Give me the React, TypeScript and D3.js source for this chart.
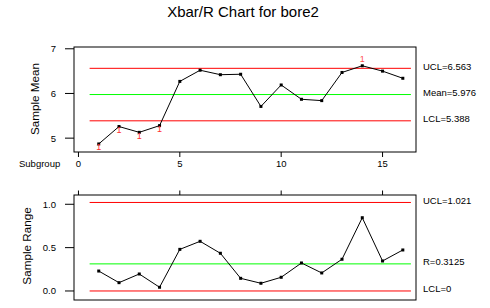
import React from "react";
import * as d3 from "d3";

const subgroups = [1, 2, 3, 4, 5, 6, 7, 8, 9, 10, 11, 12, 13, 14, 15, 16];
const sampleMeans = [4.87, 5.26, 5.13, 5.28, 6.27, 6.52, 6.42, 6.43, 5.71, 6.19, 5.87, 5.84, 6.47, 6.62, 6.5, 6.34];
const sampleRanges = [0.23, 0.096, 0.196, 0.043, 0.48, 0.573, 0.435, 0.146, 0.089, 0.158, 0.323, 0.208, 0.366, 0.845, 0.346, 0.473];
const xTicks = [0, 5, 10, 15];
const meanTicks = [5, 6, 7];
const rangeTicks = [0, 0.5, 1.0];
const meanLimits = { ucl: 6.563, center: 5.976, lcl: 5.388 };
const rangeLimits = { ucl: 1.021, center: 0.3125, lcl: 0 };
const meanLabels = ["UCL=6.563", "Mean=5.976", "LCL=5.388"];
const rangeLabels = ["UCL=1.021", "R=0.3125", "LCL=0"];

const FONT = "'Liberation Sans', Arial, sans-serif";
const RED = "#ff0000";
const GREEN = "#00ff00";

export default function App() {
  const left = 74, right = 416;
  const x = d3.scaleLinear().domain([-0.22, 16.65]).range([left, right]);
  const yM = d3.scaleLinear().domain([4.69, 7.04]).range([152, 47]);
  const yR = d3.scaleLinear().domain([-0.104, 1.107]).range([300, 195]);
  const lineX0 = x(0.55), lineX1 = x(16.4);

  const meanLine = d3.line<number>().x((_, i) => x(subgroups[i])).y((d) => yM(d));
  const rangeLine = d3.line<number>().x((_, i) => x(subgroups[i])).y((d) => yR(d));

  const limitLines = (y: d3.ScaleLinear<number, number>, lim: { ucl: number; center: number; lcl: number }, labels: string[]) => (
    <g>
      <line x1={lineX0} x2={lineX1} y1={y(lim.ucl)} y2={y(lim.ucl)} stroke={RED} strokeWidth={1} />
      <line x1={lineX0} x2={lineX1} y1={y(lim.center)} y2={y(lim.center)} stroke={GREEN} strokeWidth={1} />
      <line x1={lineX0} x2={lineX1} y1={y(lim.lcl)} y2={y(lim.lcl)} stroke={RED} strokeWidth={1} />
      {[lim.ucl, lim.center, lim.lcl].map((v, i) => (
        <text key={i} x={423} y={y(v) + 1.5} fontSize={9.5} fontFamily={FONT} fill="#000">
          {labels[i]}
        </text>
      ))}
    </g>
  );

  return (
    <svg width={490} height={308} style={{ position: "absolute", left: 0, top: 0, background: "#fff" }}>
      <rect width={490} height={308} fill="#fff" />
      <text x={243} y={17} textAnchor="middle" fontSize={15} fontFamily={FONT} fill="#000">
        Xbar/R Chart for bore2
      </text>

      {/* Top panel */}
      <rect x={left} y={47} width={right - left} height={105} fill="none" stroke="#000" strokeWidth={1} />
      {meanTicks.map((t) => (
        <g key={t}>
          <line x1={65} x2={left} y1={yM(t)} y2={yM(t)} stroke="#000" />
          <text x={56} y={yM(t) + 3.5} textAnchor="end" fontSize={9.5} fontFamily={FONT} fill="#000">{t}</text>
        </g>
      ))}
      {xTicks.map((t) => (
        <g key={t}>
          <line x1={x(t)} x2={x(t)} y1={152} y2={157} stroke="#000" />
          <text x={x(t)} y={167} textAnchor="middle" fontSize={9.5} fontFamily={FONT} fill="#000">{t}</text>
        </g>
      ))}
      <text x={19} y={167} fontSize={9.5} fontFamily={FONT} fill="#000">Subgroup</text>
      <text transform={`translate(39,99) rotate(-90)`} textAnchor="middle" fontSize={11.7} fontFamily={FONT} fill="#000">
        Sample Mean
      </text>
      {limitLines(yM, meanLimits, meanLabels)}
      <path d={meanLine(sampleMeans) || ""} fill="none" stroke="#000" strokeWidth={1} />
      {sampleMeans.map((v, i) => (
        <rect key={i} x={x(subgroups[i]) - 1.5} y={yM(v) - 1.5} width={3} height={3} fill="#000" />
      ))}
      {sampleMeans.map((v, i) =>
        v < meanLimits.lcl ? (
          <text key={"f" + i} x={x(subgroups[i])} y={yM(v) + 6.5} textAnchor="middle" fontSize={9} fontFamily={FONT} fill="#ff3030">1</text>
        ) : v > meanLimits.ucl ? (
          <text key={"f" + i} x={x(subgroups[i])} y={yM(v) - 4} textAnchor="middle" fontSize={9} fontFamily={FONT} fill="#ff5050">1</text>
        ) : null
      )}

      {/* Bottom panel */}
      <rect x={left} y={195} width={right - left} height={105} fill="none" stroke="#000" strokeWidth={1} />
      {rangeTicks.map((t) => (
        <g key={t}>
          <line x1={65} x2={left} y1={yR(t)} y2={yR(t)} stroke="#000" />
          <text x={56} y={yR(t) + 3.5} textAnchor="end" fontSize={9.5} fontFamily={FONT} fill="#000">{t.toFixed(1)}</text>
        </g>
      ))}
      {xTicks.map((t) => (
        <line key={t} x1={x(t)} x2={x(t)} y1={190.5} y2={195} stroke="#000" />
      ))}
      <text transform={`translate(31,246) rotate(-90)`} textAnchor="middle" fontSize={11.7} fontFamily={FONT} fill="#000">
        Sample Range
      </text>
      {limitLines(yR, rangeLimits, rangeLabels)}
      <path d={rangeLine(sampleRanges) || ""} fill="none" stroke="#000" strokeWidth={1} />
      {sampleRanges.map((v, i) => (
        <rect key={i} x={x(subgroups[i]) - 1.5} y={yR(v) - 1.5} width={3} height={3} fill="#000" />
      ))}
    </svg>
  );
}
